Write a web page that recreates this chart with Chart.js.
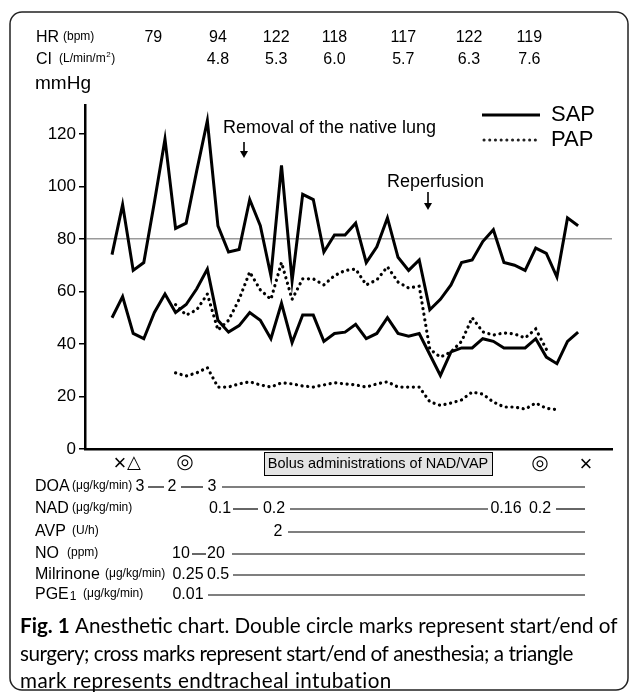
<!DOCTYPE html>
<html><head><meta charset="utf-8">
<script src="https://cdn.jsdelivr.net/npm/chart.js@4/dist/chart.umd.min.js"></script>
<style>html,body{margin:0;padding:0;background:#fff;}canvas{display:block;}</style>
</head><body>
<canvas id="c" width="630" height="695"></canvas>
<script>
// ---- data (mmHg; one value per recording time) ----
const sapSystolic = [74, 93, 68, 71, 94, 118, 84, 86, 106, 125, 85, 75, 76, 95, 85, 66, 108, 64, 97, 95, 75, 81.5, 81.5, 86, 71, 77, 88, 73, 68, 72, 53, 57, 62.5, 71, 72, 79, 83.5, 71, 70, 68, 76.5, 74.5, 65.5, 88, 85];
const sapDiastolic = [50, 58, 44, 42, 52, 59, 52, 55, 61, 68.5, 49, 44.5, 47, 52, 49, 42, 55.5, 40.5, 51, 51, 41, 44, 44.5, 47.5, 42, 44, 50, 44, 43, 44, 36, 28, 37, 38.5, 38.5, 42, 41, 38.5, 38.5, 38.5, 42, 35, 32.5, 41, 44.5];
const papSystolic = [null, null, null, null, null, null, 55, 51, 53, 59, 45.3, 49, 57, 67.4, 60.6, 57, 71, 57, 64.8, 64.8, 62.5, 66, 68, 68.5, 62.5, 64.4, 69.4, 63.6, 61.3, 62, 38, 35, 37, 41, 50, 44.6, 43.4, 44.2, 43.8, 42.3, 45.7, 38, null, null, null];
const papDiastolic = [null, null, null, null, null, null, 29, 27.8, 29, 31, 23.6, 23.6, 24.8, 25.6, 24.4, 23.6, 25.2, 24.8, 24, 23.6, 24.4, 25.2, 24.8, 24.4, 23.6, 24.8, 25.6, 23.6, 23.6, 23.6, 18, 16.6, 17.5, 18.7, 21.7, 20.9, 17.9, 16, 16, 15.2, 17.5, 15.5, 15, null, null];
const yTickValues = [0, 20, 40, 60, 80, 100, 120];
const referenceLine = 80;
const hrValues = ['79', '94', '122', '118', '117', '122', '119'];
const ciValues = ['', '4.8', '5.3', '6.0', '5.7', '6.3', '7.6'];
const hrTimes = [3.9, 10, 15.5, 21, 27.5, 33.7, 39.4];
const doaDoses = ['3', '2', '3'];
const nadDoses = ['0.1', '0.2', '0.16', '0.2'];
const avpDoses = ['2'];
const noDoses = ['10', '20'];
const milrinoneDoses = ['0.25', '0.5'];
const pge1Doses = ['0.01'];

// ---- layout ----
const F = "'Liberation Sans', Arial, Helvetica, sans-serif";
const pts = arr => arr.map((v, i) => ({x: i, y: v}));
const END = 585;
const drugRows = [
  {name: 'DOA', unit: '(μg/kg/min)', unitX: 72, y: 487,
   parts: [['t', doaDoses[0], 140], ['l', 148, 164], ['t', doaDoses[1], 172], ['l', 181, 203], ['t', doaDoses[2], 212], ['l', 222, END]]},
  {name: 'NAD', unit: '(μg/kg/min)', unitX: 72, y: 509,
   parts: [['t', nadDoses[0], 220], ['l', 233, 258], ['t', nadDoses[1], 274], ['l', 290, 488], ['t', nadDoses[2], 506], ['t', nadDoses[3], 540], ['l', 556, END]]},
  {name: 'AVP', unit: '(U/h)', unitX: 72, y: 532,
   parts: [['t', avpDoses[0], 278], ['l', 288, END]]},
  {name: 'NO', unit: '(ppm)', unitX: 67, y: 554,
   parts: [['t', noDoses[0], 181], ['l', 192, 206], ['t', noDoses[1], 216], ['l', 232, END]]},
  {name: 'Milrinone', unit: '(μg/kg/min)', unitX: 105, y: 575,
   parts: [['t', milrinoneDoses[0], 188], ['t', milrinoneDoses[1], 218], ['l', 233, END]]},
  {name: 'PGE', sub: '1', unit: '(μg/kg/min)', unitX: 83, y: 595,
   parts: [['t', pge1Doses[0], 188], ['l', 208, END]]}
];

function arrow(ctx, x, y1, y2) {
  ctx.save();
  ctx.strokeStyle = '#000'; ctx.fillStyle = '#000'; ctx.lineWidth = 1.6;
  ctx.beginPath(); ctx.moveTo(x, y1); ctx.lineTo(x, y2 - 5); ctx.stroke();
  ctx.beginPath(); ctx.moveTo(x - 4, y2 - 7); ctx.lineTo(x + 4, y2 - 7); ctx.lineTo(x, y2); ctx.closePath(); ctx.fill();
  ctx.restore();
}
function hline(ctx, x1, x2, y, w) {
  ctx.save(); ctx.strokeStyle = '#000'; ctx.lineWidth = w || 1.2;
  ctx.beginPath(); ctx.moveTo(x1, y); ctx.lineTo(x2, y); ctx.stroke(); ctx.restore();
}
function fitLine(ctx, text, x, y, target) {
  ctx.letterSpacing = '0px';
  const w = ctx.measureText(text).width;
  ctx.letterSpacing = ((target - w) / text.length).toFixed(2) + 'px';
  ctx.fillText(text, x, y);
  ctx.letterSpacing = '0px';
}

const extras = {
  id: 'extras',
  afterDraw(chart) {
    const ctx = chart.ctx;
    const xs = chart.scales.x;
    ctx.save();
    ctx.fillStyle = '#000';
    ctx.textBaseline = 'middle';
    // frame
    ctx.strokeStyle = '#222'; ctx.lineWidth = 1.5;
    ctx.beginPath(); ctx.roundRect(10, 12, 618, 678, 12); ctx.stroke();

    // header rows
    ctx.textAlign = 'left';
    ctx.font = '16px ' + F; ctx.fillText('HR', 36, 38);
    ctx.font = '12px ' + F; ctx.fillText('(bpm)', 63, 37);
    ctx.font = '16px ' + F; ctx.fillText('CI', 36, 60);
    ctx.font = '12px ' + F; ctx.fillText('(L/min/m', 59, 59);
    const w1 = ctx.measureText('(L/min/m').width;
    ctx.font = '8px ' + F; ctx.fillText('2', 59 + w1 + 0.5, 55);
    ctx.font = '12px ' + F; ctx.fillText(')', 59 + w1 + 5.5, 59);
    ctx.font = '19px ' + F; ctx.fillText('mmHg', 35, 84);
    ctx.font = '16px ' + F; ctx.textAlign = 'center';
    hrTimes.forEach((t, i) => {
      const px = xs.getPixelForValue(t);
      ctx.fillText(hrValues[i], px, 38);
      if (ciValues[i]) ctx.fillText(ciValues[i], px, 60);
    });

    // legend
    hline(ctx, 482, 540, 115, 3);
    ctx.save(); ctx.lineWidth = 3; ctx.lineCap = 'round'; ctx.setLineDash([0.1, 5.6]);
    ctx.beginPath(); ctx.moveTo(484, 140); ctx.lineTo(540, 140); ctx.stroke(); ctx.restore();
    ctx.textAlign = 'left'; ctx.font = '22px ' + F;
    ctx.fillText('SAP', 551, 115); ctx.fillText('PAP', 551, 140);

    // annotations
    ctx.font = '18px ' + F;
    ctx.fillText('Removal of the native lung', 223, 128);
    arrow(ctx, 244, 142, 158);
    ctx.fillText('Reperfusion', 387, 182);
    arrow(ctx, 428, 192, 210);

    // event marks under the axis
    ctx.textAlign = 'center';
    ctx.font = '22px ' + F; ctx.fillText('×', 120, 464);
    ctx.font = '18px DejaVu Sans'; ctx.fillText('△', 134, 463);
    ctx.font = '20px DejaVu Sans'; ctx.fillText('◎', 185, 463); ctx.fillText('◎', 540, 464);
    ctx.font = '22px ' + F; ctx.fillText('×', 586, 465);
    ctx.fillStyle = '#e4e4e4'; ctx.fillRect(264, 452, 228, 23);
    ctx.strokeStyle = '#000'; ctx.lineWidth = 1; ctx.strokeRect(264.5, 452.5, 228, 23);
    ctx.fillStyle = '#000'; ctx.font = '14.5px ' + F;
    ctx.fillText('Bolus administrations of NAD/VAP', 378, 464);

    // drug rows
    drugRows.forEach(r => {
      ctx.textAlign = 'left';
      ctx.font = '16px ' + F; ctx.fillText(r.name, 35, r.y);
      if (r.sub) {
        const nw = ctx.measureText(r.name).width;
        ctx.font = '12px ' + F; ctx.fillText(r.sub, 35 + nw + 1, r.y + 2);
      }
      ctx.font = '12px ' + F; ctx.fillText(r.unit, r.unitX, r.y - 1);
      ctx.font = '16px ' + F; ctx.textAlign = 'center';
      r.parts.forEach(p => {
        if (p[0] === 't') ctx.fillText(p[1], p[2], r.y);
        else hline(ctx, p[1], p[2], r.y, 1.2);
      });
    });

    // caption
    const cf = "Lato, 'Open Sans', sans-serif";
    ctx.textAlign = 'left';
    const line1a = 'Fig. 1', line1b = ' Anesthetic chart. Double circle marks represent start/end of';
    const line2 = 'surgery; cross marks represent start/end of anesthesia; a triangle';
    const line3 = 'mark represents endtracheal intubation';
    let size = 20;
    ctx.font = 'bold ' + size + 'px ' + cf; let wa = ctx.measureText(line1a).width;
    ctx.font = size + 'px ' + cf; let wb = ctx.measureText(line1b).width;
    size = size * 598 / (wa + wb);
    ctx.font = 'bold ' + size + 'px ' + cf; wa = ctx.measureText(line1a).width;
    ctx.fillText(line1a, 20, 626);
    ctx.font = size + 'px ' + cf;
    ctx.fillText(line1b, 20 + wa, 626);
    fitLine(ctx, line2, 20, 654, 553);
    fitLine(ctx, line3, 20, 681, 372);
    ctx.restore();
  }
};

const solid = {borderColor: '#000', borderWidth: 3, pointRadius: 0, tension: 0, fill: false, borderJoinStyle: 'miter'};
const dotted = {borderColor: '#000', borderWidth: 3.2, pointRadius: 0, tension: 0, fill: false, borderDash: [0.1, 5.6], borderCapStyle: 'round', spanGaps: false};

new Chart(document.getElementById('c'), {
  type: 'line',
  data: {
    datasets: [
      Object.assign({label: 'SAP', data: pts(sapSystolic)}, solid),
      Object.assign({label: 'SAP diastolic', data: pts(sapDiastolic)}, solid),
      Object.assign({label: 'PAP', data: pts(papSystolic)}, dotted),
      Object.assign({label: 'PAP diastolic', data: pts(papDiastolic)}, dotted)
    ]
  },
  options: {
    responsive: false, animation: false, devicePixelRatio: 1,
    layout: {padding: {left: 0, top: 105, right: 18, bottom: 246}},
    plugins: {legend: {display: false}, tooltip: {enabled: false}},
    scales: {
      x: {
        type: 'linear', min: -2.55, max: 47.2,
        ticks: {display: false}, grid: {display: false},
        border: {display: true, color: '#000', width: 2.5},
        afterFit: s => { s.height = 0; }
      },
      y: {
        type: 'linear', min: 0, max: 131,
        afterBuildTicks: s => { s.ticks = yTickValues.map(v => ({value: v})); },
        ticks: {color: '#000', font: {family: F, size: 17}, padding: 3},
        grid: {
          drawOnChartArea: true,
          color: c => (c.tick && c.tick.value === referenceLine) ? '#9a9a9a' : 'rgba(0,0,0,0)',
          lineWidth: 1.5, tickColor: '#000', tickLength: 6, tickWidth: 1.5
        },
        border: {display: true, color: '#000', width: 2.5},
        afterFit: s => { s.width = 85; }
      }
    }
  },
  plugins: [extras]
});
</script>
</body></html>
